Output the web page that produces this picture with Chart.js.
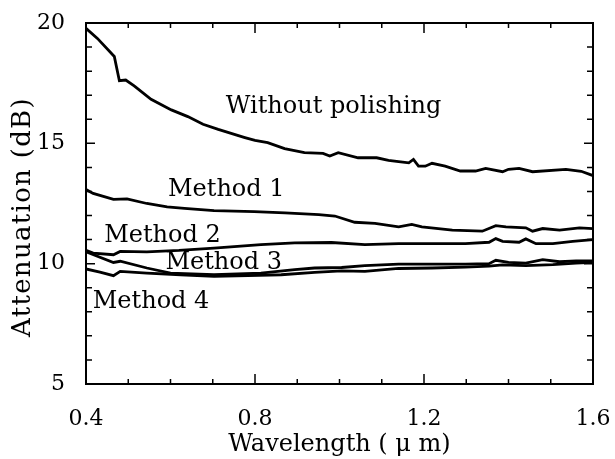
<!DOCTYPE html>
<html>
<head>
<meta charset="utf-8">
<script src="https://cdn.jsdelivr.net/npm/chart.js@4/dist/chart.umd.min.js"></script>
<style>
  html, body { margin: 0; padding: 0; background: #fff; }
  #wrap { width: 615px; height: 459px; }
</style>
</head>
<body>
<div id="wrap"><canvas id="chart" width="615" height="459"></canvas></div>
<script>
// wavelength (um) / attenuation (dB)
const woWavelength = [0.400, 0.427, 0.467, 0.479, 0.494, 0.514, 0.554, 0.602, 0.641, 0.677, 0.713, 0.776, 0.800, 0.830, 0.870, 0.917, 0.961, 0.977, 0.997, 1.044, 1.088, 1.116, 1.140, 1.164, 1.175, 1.187, 1.203, 1.219, 1.250, 1.286, 1.322, 1.346, 1.386, 1.400, 1.425, 1.457, 1.536, 1.572, 1.600];
const woAttenuation = [19.78, 19.36, 18.61, 17.60, 17.63, 17.39, 16.83, 16.39, 16.11, 15.79, 15.58, 15.24, 15.12, 15.03, 14.78, 14.61, 14.58, 14.47, 14.61, 14.40, 14.40, 14.29, 14.24, 14.19, 14.33, 14.05, 14.05, 14.17, 14.05, 13.85, 13.85, 13.96, 13.82, 13.92, 13.96, 13.82, 13.92, 13.84, 13.66];

const m1Wavelength = [0.400, 0.417, 0.465, 0.497, 0.544, 0.592, 0.633, 0.703, 0.798, 0.871, 0.951, 0.989, 1.036, 1.084, 1.140, 1.171, 1.195, 1.267, 1.338, 1.370, 1.394, 1.441, 1.457, 1.481, 1.521, 1.568, 1.600];
const m1Attenuation = [13.08, 12.92, 12.67, 12.69, 12.50, 12.36, 12.30, 12.20, 12.16, 12.11, 12.04, 11.98, 11.72, 11.67, 11.53, 11.63, 11.53, 11.39, 11.35, 11.58, 11.53, 11.49, 11.35, 11.46, 11.39, 11.49, 11.46];

const m2Wavelength = [0.400, 0.417, 0.465, 0.481, 0.544, 0.620, 0.703, 0.814, 0.894, 0.981, 1.060, 1.140, 1.219, 1.298, 1.354, 1.370, 1.386, 1.425, 1.441, 1.465, 1.505, 1.552, 1.600];
const m2Attenuation = [10.55, 10.44, 10.37, 10.51, 10.49, 10.55, 10.65, 10.79, 10.86, 10.88, 10.79, 10.83, 10.83, 10.83, 10.89, 11.04, 10.93, 10.89, 11.03, 10.83, 10.83, 10.93, 11.00];

const m3Wavelength = [0.400, 0.465, 0.481, 0.544, 0.600, 0.703, 0.814, 0.894, 0.941, 1.005, 1.060, 1.140, 1.219, 1.298, 1.354, 1.370, 1.400, 1.441, 1.481, 1.521, 1.560, 1.600];
const m3Attenuation = [10.49, 10.05, 10.10, 9.82, 9.61, 9.54, 9.61, 9.75, 9.82, 9.84, 9.92, 9.98, 9.98, 9.98, 10.00, 10.14, 10.05, 10.02, 10.17, 10.08, 10.12, 10.12];

const m4Wavelength = [0.400, 0.433, 0.465, 0.481, 0.544, 0.624, 0.703, 0.783, 0.862, 0.941, 1.005, 1.060, 1.140, 1.219, 1.298, 1.354, 1.386, 1.441, 1.505, 1.560, 1.600];
const m4Attenuation = [9.78, 9.65, 9.50, 9.68, 9.61, 9.54, 9.47, 9.50, 9.54, 9.64, 9.70, 9.68, 9.80, 9.82, 9.86, 9.90, 9.95, 9.92, 9.96, 10.02, 10.05];

const seriesNames = ["Without polishing", "Method 1", "Method 2", "Method 3", "Method 4"];
// where each curve name sits (wavelength, attenuation at text baseline)
const labelWavelength = [0.986, 0.732, 0.581, 0.726, 0.554];
const labelAttenuation = [16.25, 12.83, 10.89, 9.78, 8.15];

const xTickLabels = [0.4, 0.8, 1.2, 1.6];
const xMinorTicks = [0.5, 0.6, 0.7, 0.9, 1.0, 1.1, 1.3, 1.4, 1.5];
const yTickLabels = [5, 10, 15, 20];
const yMinorTicks = [6, 7, 8, 9, 11, 12, 13, 14, 16, 17, 18, 19];

const FONT = "'DejaVu Serif', 'Liberation Serif', serif";

function toPoints(xs, ys) {
  return xs.map((x, i) => ({ x: x, y: ys[i] }));
}

const allSeries = [
  toPoints(woWavelength, woAttenuation),
  toPoints(m1Wavelength, m1Attenuation),
  toPoints(m2Wavelength, m2Attenuation),
  toPoints(m3Wavelength, m3Attenuation),
  toPoints(m4Wavelength, m4Attenuation),
];

// frame with inward ticks on all four sides, the curve names and the y title
const framePlugin = {
  id: "frame",
  afterDatasetsDraw(chart) {
    const ctx = chart.ctx;
    const area = chart.chartArea;
    const xs = chart.scales.x;
    const ys = chart.scales.y;
    ctx.save();
    ctx.strokeStyle = "#000";
    ctx.lineWidth = 2;
    ctx.strokeRect(area.left, area.top, area.right - area.left, area.bottom - area.top);

    function xTick(v, len) {
      const px = xs.getPixelForValue(v);
      ctx.beginPath();
      ctx.moveTo(px, area.bottom);
      ctx.lineTo(px, area.bottom - len);
      ctx.moveTo(px, area.top);
      ctx.lineTo(px, area.top + len);
      ctx.stroke();
    }
    function yTick(v, len) {
      const py = ys.getPixelForValue(v);
      ctx.beginPath();
      ctx.moveTo(area.left, py);
      ctx.lineTo(area.left + len, py);
      ctx.moveTo(area.right, py);
      ctx.lineTo(area.right - len, py);
      ctx.stroke();
    }
    ctx.lineWidth = 1.5;
    xTickLabels.forEach((v) => xTick(v, 10));
    xMinorTicks.forEach((v) => xTick(v, 5));
    yTickLabels.forEach((v) => yTick(v, 9));
    yMinorTicks.forEach((v) => yTick(v, 6));

    ctx.fillStyle = "#000";
    ctx.font = "24px " + FONT;
    ctx.textAlign = "center";
    ctx.textBaseline = "alphabetic";
    seriesNames.forEach((name, i) => {
      ctx.fillText(
        name,
        xs.getPixelForValue(labelWavelength[i]),
        ys.getPixelForValue(labelAttenuation[i])
      );
    });

    // y axis title, a bit wider set than the default
    ctx.translate(23, 217);
    ctx.rotate(-Math.PI / 2);
    ctx.font = "26px " + FONT;
    ctx.letterSpacing = "1.3px";
    ctx.textBaseline = "middle";
    ctx.fillText("Attenuation (dB)", 0, 0);
    ctx.restore();
  },
};

new Chart(document.getElementById("chart"), {
  type: "line",
  data: {
    datasets: allSeries.map((pts, i) => ({
      label: seriesNames[i],
      data: pts,
      borderColor: "#000",
      borderWidth: 2.8,
      pointRadius: 0,
      tension: 0,
      fill: false,
    })),
  },
  options: {
    responsive: false,
    animation: false,
    layout: { padding: { top: 23, right: 22, bottom: 0, left: 0 } },
    plugins: {
      legend: { display: false },
      tooltip: { enabled: false },
    },
    scales: {
      x: {
        type: "linear",
        min: 0.4,
        max: 1.6,
        grid: { display: false },
        border: { display: false },
        afterBuildTicks: (scale) => {
          scale.ticks = xTickLabels.map((v) => ({ value: v }));
        },
        ticks: {
          color: "#000",
          font: { family: FONT, size: 22 },
          padding: 14,
          maxRotation: 0,
          callback: (v) => v.toFixed(1),
        },
        title: {
          display: true,
          text: "Wavelength ( μ m)",
          color: "#000",
          font: { family: FONT, size: 24 },
          padding: { top: 0, bottom: 0 },
        },
        afterFit: (scale) => {
          scale.height = 75;
          scale.paddingLeft = 0;
          scale.paddingRight = 0;
        },
      },
      y: {
        type: "linear",
        min: 5,
        max: 20,
        grid: { display: false },
        border: { display: false },
        afterBuildTicks: (scale) => {
          scale.ticks = yTickLabels.map((v) => ({ value: v }));
        },
        ticks: {
          color: "#000",
          font: { family: FONT, size: 22 },
          padding: 13,
          callback: (v) => String(v),
        },
        title: { display: false },
        afterFit: (scale) => {
          scale.width = 86;
          scale.paddingTop = 0;
          scale.paddingBottom = 0;
        },
      },
    },
  },
  plugins: [framePlugin],
});
</script>
</body>
</html>
